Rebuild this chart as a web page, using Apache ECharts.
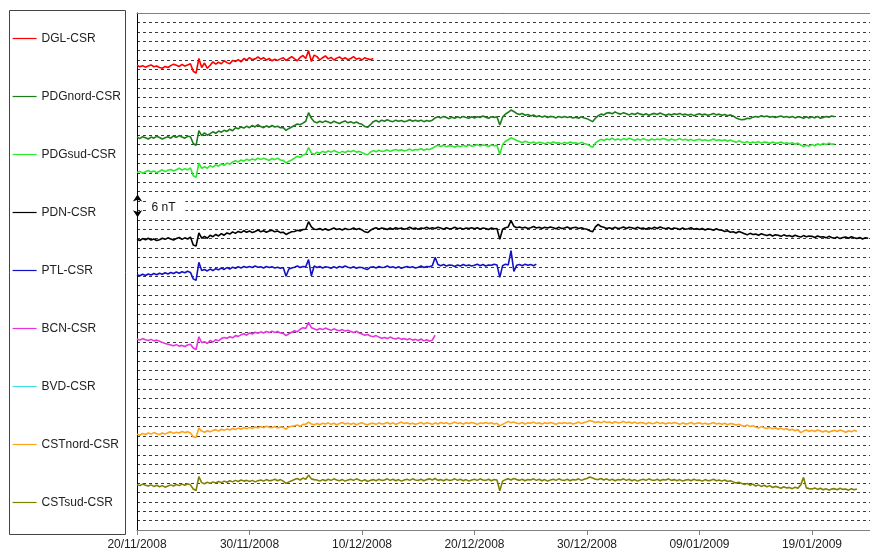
<!DOCTYPE html>
<html>
<head>
<meta charset="utf-8">
<script src="https://cdn.jsdelivr.net/npm/echarts@6/dist/echarts.min.js"></script>
<style>
  html, body { margin: 0; padding: 0; background: #ffffff; }
  #chart { width: 870px; height: 555px; }
</style>
</head>
<body>
<div id="chart"></div>
<script>
// ---- Data (x: days since 20/11/2008, sampled every 6 h; y: nT with per-station display offsets) ----
const tickLabels = ['20/11/2008', '30/11/2008', '10/12/2008', '20/12/2008', '30/12/2008', '09/01/2009', '19/01/2009'];
const seriesNames = ['DGL-CSR', 'PDGnord-CSR', 'PDGsud-CSR', 'PDN-CSR', 'PTL-CSR', 'BCN-CSR', 'BVD-CSR', 'CSTnord-CSR', 'CSTsud-CSR'];
const sampleStepDays = 0.25;
const xMaxDays = 65.16;

const dglValues = [
  123.6,123.2,123.5,123.1, 123.4,123.7,123.2,123.4, 123.0,122.8,123.3,123.0, 123.5,123.9,123.6,123.3,
  123.8,123.4,123.7,124.0, 122.0,121.5,125.4,123.0, 124.2,122.8,123.6,124.5, 123.9,124.4,124.0,124.8,
  124.3,124.0,124.9,124.6, 125.1,124.5,125.4,125.0, 125.6,125.1,125.3,125.8, 125.2,125.6,125.0,125.4,
  124.8,125.2,124.9,125.3, 125.6,124.9,125.4,125.9, 125.3,124.8,125.7,126.2, 125.4,127.5,124.6,126.3,
  125.9,125.0,125.6,126.1, 125.3,125.7,125.0,125.5, 125.8,125.2,125.6,125.1, 125.4,125.9,125.2,125.5,
  125.0,125.6,125.3,125.1, 125.4];

const pdgNordValues = [
  104.5,104.1,104.6,104.3, 104.0,104.5,104.2,104.7, 104.4,104.0,104.3,104.6, 104.2,104.8,104.4,104.9,
  104.5,104.2,104.7,104.6, 102.8,102.3,106.2,104.9, 105.6,105.0,105.4,105.9, 105.5,106.1,105.8,106.3,
  106.0,106.6,106.2,107.0, 106.7,107.2,106.9,107.4, 107.0,107.6,107.2,107.8, 107.3,107.0,107.5,107.1,
  107.6,107.2,107.4,107.0, 107.0,106.3,106.8,107.2, 107.6,108.0,107.8,108.2, 108.7,111.0,109.5,108.6,
  108.3,108.7,108.4,108.8, 108.5,108.2,108.7,108.4, 108.1,108.5,108.8,108.3, 108.6,108.2,108.5,108.1,
  107.9,107.3,107.1,107.8, 108.6,108.9,108.5,109.0, 108.7,109.1,108.8,108.6, 109.0,108.7,108.9,108.6,
  108.8,109.1,108.7,109.0, 108.7,109.0,108.6,108.9, 108.7,109.0,109.6,109.9, 109.6,110.0,109.7,109.4,
  109.8,109.5,109.9,109.6, 110.0,109.7,109.5,109.9, 109.6,109.9,109.7,110.1, 109.8,109.5,109.9,109.7,
  109.9,107.7,109.8,110.6, 111.1,111.7,111.3,110.8, 110.5,110.8,110.3,110.5, 110.1,110.4,109.9,110.2,
  109.8,110.1,109.7,110.0, 109.9,109.6,110.0,109.7, 110.0,109.7,109.9,109.6, 109.8,109.5,109.9,109.6,
  109.4,109.0,108.6,109.5, 110.2,110.6,110.4,110.9, 111.0,110.7,111.2,110.8, 110.6,111.0,110.7,110.4,
  110.8,110.5,110.9,110.6, 110.4,110.7,110.3,110.6, 110.8,110.5,110.9,110.6, 110.3,110.6,110.4,110.7,
  110.5,110.8,110.4,110.6, 110.3,110.6,110.2,110.5, 110.7,110.4,110.6,110.3, 110.5,110.8,110.4,110.6,
  110.3,110.5,110.2,110.4, 110.1,109.6,109.3,109.1, 109.2,109.5,109.4,109.8, 110.0,109.8,110.2,109.9,
  110.1,109.8,110.0,109.7, 109.9,110.1,109.8,110.0, 109.7,110.0,109.6,109.9, 109.8,109.5,109.9,109.6,
  109.9,109.6,110.0,109.5, 109.7,110.0,109.8,110.1, 109.9];

const pdgSudValues = [
  95.1,95.4,94.9,95.3, 95.6,95.2,95.5,95.0, 95.4,95.8,95.3,95.7, 95.9,95.5,95.8,96.2,
  95.7,96.1,95.8,96.3, 94.2,93.8,97.6,96.2, 96.6,96.2,96.9,96.5, 97.1,96.8,97.4,97.0,
  97.6,97.3,97.9,98.2, 97.9,98.4,98.1,98.6, 98.3,98.7,98.4,98.9, 98.5,98.9,98.6,98.3,
  98.8,98.5,98.9,98.4, 98.3,97.6,98.1,98.4, 98.9,99.4,99.1,99.7, 100.0,101.7,100.3,99.9,
  100.5,100.2,100.7,100.4, 100.8,100.5,100.9,100.6, 100.3,100.7,100.4,100.8, 100.6,100.9,100.5,100.7,
  100.4,100.0,99.8,100.5, 100.9,100.6,101.0,100.7, 100.8,101.1,100.7,101.0, 101.2,100.9,101.1,100.8,
  101.0,101.3,100.9,101.2, 101.1,101.4,101.0,101.3, 101.2,101.5,102.0,102.3, 102.0,102.3,101.9,102.2,
  102.1,101.8,102.2,101.9, 102.3,102.0,102.4,102.1, 102.2,102.5,102.1,102.4, 102.3,102.0,102.4,102.2,
  102.3,99.9,102.5,103.4, 103.8,104.3,104.0,103.6, 103.3,103.0,103.4,103.1, 102.9,103.2,102.8,103.1,
  103.0,102.7,103.1,102.8, 103.2,102.9,103.0,102.7, 103.1,102.8,103.2,102.9, 103.0,102.7,103.1,102.8,
  102.6,102.2,101.8,102.9, 103.5,103.9,103.6,104.0, 103.8,104.2,103.7,104.0, 103.7,104.1,103.8,104.2,
  103.9,103.6,104.0,103.7, 104.1,103.8,103.6,104.0, 103.7,104.0,103.8,104.1, 103.9,103.6,104.0,103.7,
  103.8,104.1,103.7,103.9, 103.6,103.9,103.5,103.8, 103.9,103.6,103.8,103.5, 103.7,104.0,103.6,103.8,
  103.5,103.8,103.4,103.7, 103.4,103.1,103.5,103.2, 103.0,103.3,102.9,103.2, 103.0,103.3,102.9,103.2,
  103.1,102.8,103.2,102.9, 102.9,103.2,102.8,103.0, 102.7,103.0,102.6,102.9, 102.4,102.0,102.3,102.1,
  102.5,102.2,102.7,102.4, 102.8,102.5,102.9,102.6, 102.7];

const pdnValues = [
  77.3,77.0,77.5,77.2, 77.6,77.1,77.4,77.0, 77.2,77.6,77.3,77.7, 77.4,77.1,77.5,77.8,
  77.3,77.7,77.4,77.9, 75.8,75.5,79.0,77.6, 78.1,77.6,78.4,78.0, 78.6,78.2,78.8,78.4,
  79.0,78.7,79.3,78.9, 79.4,79.1,79.6,79.2, 79.5,79.1,79.4,79.8, 79.3,79.6,79.2,79.5,
  79.7,79.3,79.5,79.1, 79.2,78.6,79.0,79.3, 79.4,79.7,79.5,79.9, 80.0,82.0,80.6,80.0,
  79.9,80.2,79.8,80.1, 79.7,80.0,80.3,79.9, 80.1,79.8,80.2,79.9, 80.0,80.3,79.9,80.2,
  79.8,79.3,79.1,79.7, 80.1,80.4,80.0,80.3, 80.2,79.9,80.3,80.0, 80.4,80.1,80.3,80.0,
  80.2,80.5,80.1,80.3, 80.0,80.3,80.2,80.5, 80.1,80.4,80.2,80.5, 80.3,80.0,80.4,80.1,
  80.2,80.5,80.1,80.3, 80.0,80.3,80.2,80.4, 80.1,80.4,80.0,80.3, 80.2,79.9,80.3,80.1,
  80.2,77.3,80.0,80.4, 80.6,82.3,80.8,80.4, 80.6,80.3,80.5,80.2, 80.4,80.7,80.3,80.5,
  80.2,80.5,80.3,80.6, 80.4,80.1,80.5,80.2, 80.3,80.6,80.2,80.4, 80.5,80.2,80.4,80.1,
  80.0,79.6,79.3,80.6, 81.3,80.7,80.5,80.2, 80.4,80.1,80.5,80.2, 80.3,80.6,80.2,80.5,
  80.4,80.1,80.5,80.2, 80.3,80.0,80.4,80.1, 80.5,80.2,80.6,80.3, 80.1,80.4,80.0,80.3,
  80.2,79.9,80.3,80.0, 80.1,80.4,80.0,80.2, 79.9,80.2,79.8,80.1, 80.0,79.7,80.1,79.8,
  79.7,79.4,79.6,79.2, 79.3,79.0,79.4,79.1, 78.8,78.5,78.9,78.6, 78.7,78.4,78.8,78.5,
  78.3,78.6,78.2,78.5, 78.4,78.1,78.5,78.2, 78.3,78.0,78.4,78.1, 77.9,78.3,78.0,78.2,
  78.1,77.8,78.2,77.9, 78.0,77.7,78.1,77.8, 77.6,77.9,77.5,77.8, 77.9,77.6,78.0,77.7,
  77.5,77.8,77.4,77.7, 77.6];

const ptlValues = [
  67.9,67.6,68.0,67.7, 68.1,67.8,68.2,67.9, 68.3,68.0,68.4,68.1, 68.5,68.2,68.6,68.3,
  68.7,68.4,68.8,68.5, 66.8,66.4,71.2,69.0, 69.3,68.9,69.4,69.0, 69.5,69.2,69.7,69.3,
  69.8,69.4,69.9,69.6, 70.0,69.7,70.1,69.8, 70.1,69.8,70.2,69.9, 70.0,69.7,70.1,69.8,
  70.0,69.7,69.9,69.6, 69.8,67.5,69.4,69.7, 69.9,70.2,69.8,70.1, 70.0,71.9,67.6,70.2,
  69.8,70.1,69.7,70.0, 69.9,69.6,70.0,69.7, 70.1,69.8,70.2,69.9, 69.7,70.0,69.6,69.9,
  69.8,69.5,69.3,69.9, 70.0,69.7,70.1,69.8, 69.9,70.2,69.8,70.0, 69.7,70.0,69.6,69.9,
  70.1,69.8,70.0,69.7, 69.9,70.2,69.8,70.1, 70.0,70.3,72.5,70.6, 70.3,70.6,70.2,70.5,
  70.4,70.1,70.5,70.2, 70.6,70.3,70.5,70.2, 70.4,70.7,70.3,70.6, 70.2,70.5,70.4,70.7,
  70.5,67.2,70.3,70.7, 70.5,74.3,68.8,70.4, 70.6,70.3,70.7,70.4, 70.6,70.3,70.7];

const bcnValues = [
  50.8,50.5,50.9,50.6, 50.4,50.7,50.3,50.5, 50.2,49.9,49.6,49.4, 49.2,49.0,49.3,48.9,
  49.1,48.8,49.2,49.4, 48.4,48.0,51.4,49.8, 50.1,49.6,50.4,50.0, 50.6,50.3,50.9,51.2,
  51.0,51.4,51.1,51.7, 51.5,51.9,52.2,51.8, 52.4,52.1,52.6,52.3, 52.7,52.4,52.8,52.5,
  52.9,52.5,52.8,52.4, 52.3,51.7,52.2,52.6, 53.0,52.7,53.4,53.8, 53.6,55.2,53.8,53.5,
  53.2,53.6,53.3,53.7, 53.4,53.1,53.5,53.2, 53.0,53.3,52.9,53.1, 52.8,52.5,52.9,52.4,
  52.1,51.8,52.0,51.6, 51.4,51.7,51.3,51.0, 51.2,50.9,51.3,51.0, 50.8,51.1,50.7,50.9,
  50.6,50.9,50.5,50.7, 50.4,50.8,50.3,50.6, 50.2,50.5,51.8];

const bvdValues = [];

const cstNordValues = [
  25.5,25.2,25.7,25.4, 25.8,25.5,25.9,25.6, 25.4,25.8,25.5,25.9, 26.1,25.7,26.0,25.8,
  26.2,25.9,26.1,25.8, 24.8,24.6,27.1,26.3, 26.0,26.4,26.1,26.5, 26.7,26.3,26.8,26.5,
  26.9,26.6,27.0,26.7, 27.1,26.8,27.2,26.9, 27.3,27.0,27.4,27.1, 27.5,27.2,27.6,27.3,
  27.2,27.5,27.1,27.4, 27.3,26.8,27.4,27.6, 27.7,27.9,27.6,28.1, 28.1,28.7,28.2,28.0,
  28.3,28.0,28.4,28.2, 28.5,28.1,28.4,28.0, 28.3,28.6,28.2,28.4, 28.1,28.4,28.0,28.3,
  28.5,28.2,28.0,28.3, 28.4,28.1,28.5,28.2, 28.3,28.6,28.2,28.5, 28.1,28.4,28.7,28.3,
  28.5,28.2,28.4,28.1, 28.3,28.6,28.2,28.5, 28.4,28.1,28.5,28.2, 28.6,28.3,28.5,28.2,
  28.4,28.7,28.3,28.5, 28.2,28.5,28.3,28.6, 28.4,28.1,28.5,28.3, 28.6,28.3,28.5,28.2,
  28.4,27.7,28.1,28.5, 28.9,28.5,28.7,28.4, 28.3,28.6,28.2,28.5, 28.4,28.7,28.3,28.5,
  28.2,28.5,28.3,28.6, 28.4,28.1,28.5,28.3, 28.6,28.3,28.5,28.2, 28.4,28.7,28.3,28.6,
  28.8,29.1,28.9,28.6, 28.8,28.5,28.9,28.6, 28.7,28.4,28.8,28.5, 28.6,28.9,28.5,28.7,
  28.4,28.7,28.3,28.6, 28.5,28.2,28.6,28.3, 28.4,28.7,28.3,28.5, 28.2,28.5,28.3,28.6,
  28.4,28.1,28.5,28.2, 28.3,28.6,28.2,28.4, 28.5,28.2,28.4,28.1, 28.3,28.6,28.2,28.4,
  28.1,28.4,28.0,28.3, 28.2,27.9,28.1,27.8, 27.6,27.9,27.5,27.7, 27.4,27.1,27.5,27.2,
  27.0,27.3,26.9,27.2, 26.8,27.1,26.7,27.0, 26.5,26.8,26.4,26.7, 25.9,26.3,26.6,26.2,
  26.5,26.2,26.6,26.3, 26.1,26.4,26.0,26.3, 26.5,26.2,26.6,26.3, 26.0,26.4,26.1,26.5,
  26.2];

const cstSudValues = [
  12.1,11.8,12.2,11.9, 11.7,12.0,11.6,11.9, 11.5,11.8,11.4,11.7, 12.0,11.7,12.1,11.8,
  12.2,11.9,12.3,12.0, 10.9,10.5,14.2,12.6, 12.3,12.7,12.4,12.8, 12.5,12.9,12.6,13.0,
  12.7,13.1,12.8,13.2, 12.9,13.3,13.0,13.2, 12.9,13.2,12.8,13.1, 13.3,13.0,13.4,13.1,
  13.2,13.5,13.1,13.4, 13.0,12.4,12.8,13.1, 13.4,13.7,13.3,13.8, 13.5,14.6,13.6,13.4,
  13.3,13.0,13.4,13.1, 13.5,13.2,13.6,13.3, 13.1,13.4,13.0,13.3, 13.5,13.2,13.6,13.3,
  13.0,13.4,12.9,13.2, 13.4,13.1,13.5,13.2, 13.3,13.6,13.2,13.5, 13.1,13.4,13.0,13.3,
  13.5,13.2,13.6,13.3, 13.2,13.5,13.1,13.4, 13.6,13.3,13.7,13.2, 13.4,13.1,13.5,13.2,
  13.3,13.6,13.2,13.5, 13.1,13.4,13.0,13.3, 13.5,13.2,13.6,13.3, 13.2,13.5,13.1,13.4,
  13.3,10.4,13.0,13.4, 13.6,13.3,13.7,13.4, 13.2,13.5,13.1,13.4, 13.3,13.6,13.2,13.5,
  13.1,13.4,13.0,13.3, 13.5,13.2,13.6,13.3, 13.2,13.5,13.1,13.4, 13.3,13.6,13.2,13.5,
  13.7,14.1,13.8,13.5, 13.4,13.7,13.3,13.6, 13.2,13.5,13.1,13.4, 13.3,13.6,13.2,13.5,
  13.1,13.4,13.0,13.3, 13.5,13.2,13.6,13.3, 13.2,13.5,13.1,13.4, 13.3,13.6,13.2,13.4,
  13.1,13.4,13.0,13.3, 13.4,13.1,13.5,13.2, 13.3,13.0,13.4,13.1, 13.2,13.5,13.1,13.3,
  13.0,13.3,12.9,13.1, 12.8,12.5,12.7,12.4, 12.1,12.4,11.9,12.2, 11.7,12.0,11.6,11.9,
  11.5,11.8,11.3,11.6, 11.4,11.1,11.5,11.2, 11.3,11.0,11.4,11.1, 12.0,14.0,11.2,11.0,
  10.9,11.2,10.8,11.1, 10.7,11.0,10.6,10.9, 11.0,10.7,11.1,10.8, 10.9,10.6,11.0,10.7,
  10.9];

const seriesValues = [dglValues, pdgNordValues, pdgSudValues, pdnValues, ptlValues, bcnValues, bvdValues, cstNordValues, cstSudValues];
const seriesColors = ['#ff0000', '#1a7d1a', '#2ee82e', '#000000', '#1212c4', '#e633e0', '#44dede', '#ffa31a', '#808000'];

// scale bar annotation
const scaleBarLabel = '6 nT';
const scaleBarBottom = 83.2;
const scaleBarSize = 6;
const scaleBarLabelY = 85.6;

const chart = echarts.init(document.getElementById('chart'), null, { renderer: 'canvas' });
const FONT = '"Liberation Sans", Arial, sans-serif';

const series = seriesNames.map((name, k) => {
  const s = {
    name: name,
    type: 'line',
    data: seriesValues[k].map((v, i) => [i * sampleStepDays, v]),
    showSymbol: false,
    symbol: 'none',
    lineStyle: { color: seriesColors[k], width: 1.6 },
    itemStyle: { color: seriesColors[k] },
    animation: false,
    silent: true,
    z: 3
  };
  if (name === 'PDN-CSR') {
    s.markLine = {
      silent: true,
      symbol: ['arrow', 'arrow'],
      symbolSize: [7, 7],
      label: { show: false },
      lineStyle: { color: '#000', width: 1, type: 'solid' },
      data: [[{ coord: [0.05, scaleBarBottom] }, { coord: [0.05, scaleBarBottom + scaleBarSize] }]],
      animation: false
    };
    s.markPoint = {
      silent: true,
      symbol: 'rect',
      symbolSize: 1,
      itemStyle: { color: 'rgba(0,0,0,0)' },
      label: {
        show: true, position: 'right', distance: 0,
        formatter: scaleBarLabel,
        color: '#111', fontSize: 12, fontFamily: FONT,
        backgroundColor: '#ffffff', padding: [2, 10, 2, 5]
      },
      data: [{ coord: [0.8, scaleBarLabelY] }],
      animation: false
    };
  }
  return s;
});

chart.setOption({
  backgroundColor: '#ffffff',
  animation: false,
  textStyle: { fontFamily: FONT },
  grid: { left: 137, right: 0, top: 13, bottom: 25, containLabel: false },
  legend: {
    orient: 'vertical',
    left: 7, top: 27.5,
    itemWidth: 24, itemHeight: 12, itemGap: 46,
    selectedMode: false,
    itemStyle: { opacity: 0, borderWidth: 0 },
    lineStyle: { width: 1.2 },
    textStyle: { fontSize: 12, color: '#222', fontFamily: FONT },
    data: seriesNames
  },
  graphic: [{
    type: 'rect', left: 7, top: 8, silent: true,
    shape: { width: 116, height: 524 },
    style: { fill: 'none', stroke: '#444', lineWidth: 1 }
  }],
  xAxis: [{
    type: 'value', min: 0, max: xMaxDays, interval: 10, position: 'bottom',
    axisLine: { show: true, lineStyle: { color: '#808080', width: 1 } },
    axisTick: { show: true, length: 5, lineStyle: { color: '#808080' } },
    axisLabel: {
      show: true, margin: 9, fontSize: 12, color: '#222', fontFamily: FONT,
      showMaxLabel: false,
      formatter: function (v) {
        const idx = Math.round(v / 10);
        return (Math.abs(v - idx * 10) < 1e-6 && tickLabels[idx]) ? tickLabels[idx] : '';
      }
    },
    splitLine: { show: false }
  }, {
    type: 'value', min: 0, max: xMaxDays, position: 'top',
    axisLine: { show: true, lineStyle: { color: '#808080', width: 1 } },
    axisTick: { show: false }, axisLabel: { show: false }, splitLine: { show: false }
  }],
  yAxis: {
    type: 'value', min: 0, max: 137.5, interval: 2.5,
    axisLine: { show: true, lineStyle: { color: '#000', width: 1 } },
    axisTick: { show: false },
    axisLabel: { show: false },
    splitLine: { show: true, lineStyle: { color: '#3a3a3a', width: 1, type: [3, 3] } }
  },
  series: series
});
</script>
</body>
</html>
